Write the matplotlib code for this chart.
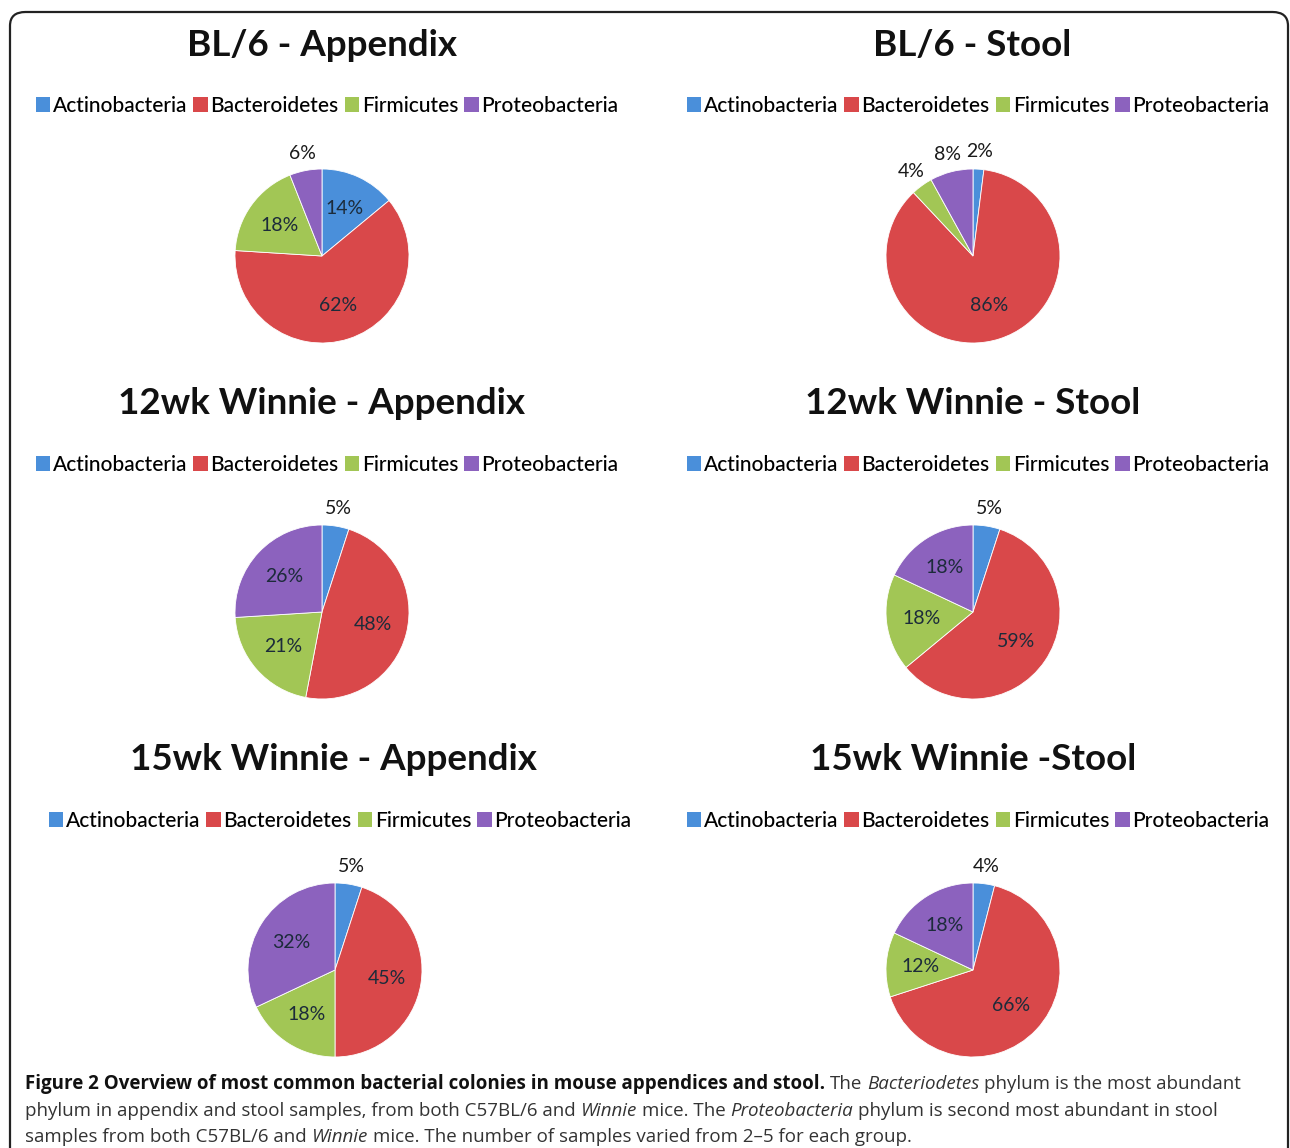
import matplotlib
matplotlib.use('Agg')
import matplotlib.pyplot as plt
from matplotlib.patches import Patch, FancyBboxPatch
import numpy as np

# ---- data ----
categories = ['Actinobacteria', 'Bacteroidetes', 'Firmicutes', 'Proteobacteria']
colors = ['#4A8FDA', '#D9484A', '#A2C655', '#8C62BE']
titles = ['BL/6 - Appendix', 'BL/6 - Stool',
          '12wk Winnie - Appendix', '12wk Winnie - Stool',
          '15wk Winnie - Appendix', '15wk Winnie -Stool']
bl6_appendix = [14, 62, 18, 6]
bl6_stool = [2, 86, 4, 8]
wk12_appendix = [5, 48, 21, 26]
wk12_stool = [5, 59, 18, 18]
wk15_appendix = [5, 45, 18, 32]
wk15_stool = [4, 66, 12, 18]
series = [bl6_appendix, bl6_stool, wk12_appendix, wk12_stool, wk15_appendix, wk15_stool]

W, H = 1290, 1148
fig = plt.figure(figsize=(W / 100, H / 100), dpi=100)
fig.patch.set_facecolor('white')


def fx(x):
    return x / W


def fy(y):
    return 1 - y / H


# layout (pixels): pie centre, title centre, legend centre
pie_centers = [(322, 256), (973, 256), (322, 612), (973, 612), (335, 970), (973, 970)]
title_centers = [(322, 46), (972, 46), (321, 403), (973, 403), (333, 760), (973, 760)]
legend_centers = [(327, 106), (978, 106), (327, 465), (978, 465), (340, 821), (978, 821)]
R = 87
L = 1.45
S = 2 * L * R

# frame
frame = FancyBboxPatch((fx(10), fy(1200)), fx(1278), (1200 - 12) / H,
                       boxstyle='round,pad=0,rounding_size=0.012',
                       transform=fig.transFigure, fill=False,
                       edgecolor='#222222', linewidth=1.6, zorder=0)
fig.patches.append(frame)

handles = [Patch(facecolor=c, edgecolor='none') for c in colors]

for vals, title, (cx, cy), (tx, ty), (lx, ly) in zip(series, titles, pie_centers,
                                                     title_centers, legend_centers):
    ax = fig.add_axes([fx(cx - S / 2), fy(cy + S / 2), S / W, S / H])
    wedges, _ = ax.pie(vals, colors=colors, startangle=90, counterclock=False,
                       radius=1, wedgeprops=dict(edgecolor='white', linewidth=0.6))
    ax.set_xlim(-L, L)
    ax.set_ylim(-L, L)
    ax.axis('off')
    for w, v in zip(wedges, vals):
        th = np.deg2rad((w.theta1 + w.theta2) / 2)
        if v < 10:
            d = 1.2
            col = '#1a1a1a'
        else:
            d = 0.6
            col = '#1c2b3a'
        ax.text(d * np.cos(th), d * np.sin(th), f'{v}%', ha='center', va='center',
                fontsize=14, family='Lato', color=col)
    fig.text(fx(tx), fy(ty), title, ha='center', va='center', fontsize=26.5,
             family='Lato', weight='bold', color='#111111')
    fig.legend(handles, categories, loc='center', bbox_to_anchor=(fx(lx), fy(ly)),
               ncol=4, frameon=False, handlelength=0.7, handleheight=0.7,
               handletextpad=0.12, columnspacing=0.3, borderpad=0, borderaxespad=0,
               prop=dict(family='Lato', size=15, weight='medium'))

# caption with mixed styles
fig.canvas.draw()
renderer = fig.canvas.get_renderer()
cap_size = 13.5
cap_family = 'Open Sans'


def width_of(s, **kw):
    t = fig.text(0, 0, s, fontsize=cap_size, family=cap_family, **kw)
    w = t.get_window_extent(renderer).width
    t.remove()
    return w


space_w = width_of('a a') - width_of('aa')


def draw_runs(y, runs, x0=25):
    x = x0
    for text, kw in runs:
        n = len(text) - len(text.lstrip(' '))
        x += n * space_w
        text = text.lstrip(' ')
        opts = dict(fontsize=cap_size, family=cap_family, va='baseline', ha='left',
                    color='#333333')
        opts.update(kw)
        t = fig.text(fx(x), fy(y), text, **opts)
        x += t.get_window_extent(renderer).width


B = dict(weight='bold', color='#111111')
I = dict(style='italic')
N = {}
draw_runs(1089, [('Figure 2 Overview of most common bacterial colonies in mouse appendices and stool.', B),
                 (' The', N), (' Bacteriodetes', I), (' phylum is the most abundant', N)])
draw_runs(1116, [('phylum in appendix and stool samples, from both C57BL/6 and', N), (' Winnie', I),
                 (' mice. The', N), (' Proteobacteria', I), (' phylum is second most abundant in stool', N)])
draw_runs(1142, [('samples from both C57BL/6 and', N), (' Winnie', I),
                 (' mice. The number of samples varied from 2\u20135 for each group.', N)])

fig.savefig('out.png', dpi=100)
